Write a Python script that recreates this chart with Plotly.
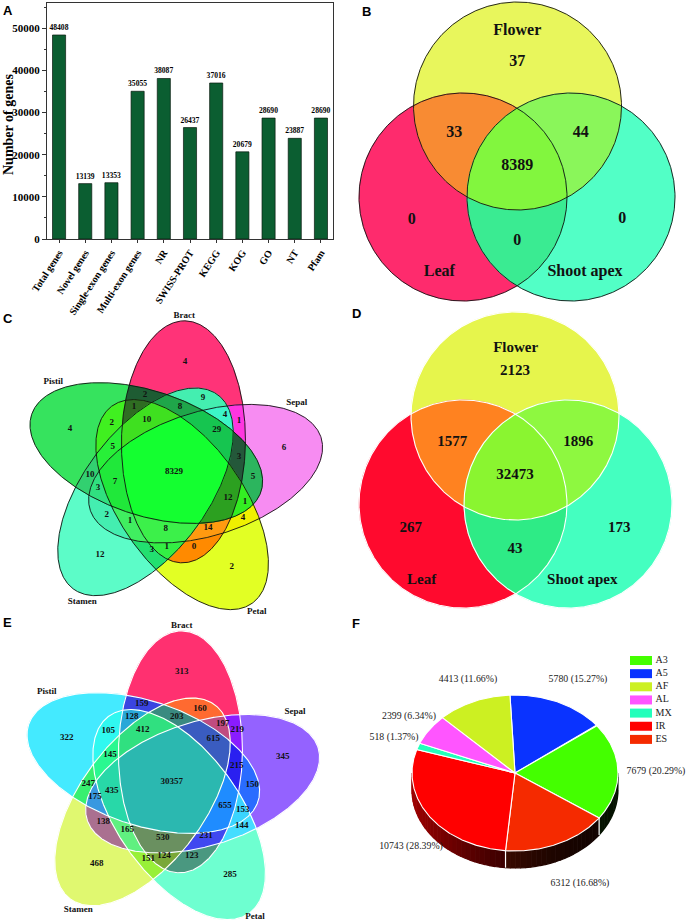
import numpy as np
import plotly.graph_objects as go
from itertools import combinations

SERIF = "Liberation Serif"
SANS = "Liberation Sans"

# ---------------- data ----------------
gene_categories = ["Total genes", "Novel genes", "Single-exon genes", "Multi-exon genes", "NR",
                   "SWISS-PROT", "KEGG", "KOG", "GO", "NT", "Pfam"]
gene_counts = [48408, 13139, 13353, 35055, 38087, 26437, 37016, 20679, 28690, 23887, 28690]

tissue3_names = ["Flower", "Leaf", "Shoot apex"]
# region order: Flower only, Flower+Leaf, Flower+Shoot, all three, Leaf only, Shoot only, Leaf+Shoot
venn_b_counts = [37, 33, 44, 8389, 0, 0, 0]
venn_d_counts = [2123, 1577, 1896, 32473, 267, 173, 43]

tissue5_names = ["Bract", "Sepal", "Petal", "Stamen", "Pistil"]
venn_c_counts = [4, 6, 2, 12, 4, 8329, 2, 1, 8, 9, 4, 1, 10, 2, 29, 5, 3, 5, 10, 3, 7, 12, 1, 2, 1, 8, 4, 14, 3, 1, 0]
venn_e_counts = [313, 345, 285, 468, 322, 30357, 159, 160, 128, 203, 197, 219, 105, 412, 615, 145, 215,
                 247, 150, 175, 435, 655, 153, 138, 165, 144, 530, 231, 151, 124, 123]

as_types = ["A3", "A5", "AF", "AL", "MX", "IR", "ES"]
as_counts = [7679, 5780, 4413, 2399, 518, 10743, 6312]

# ---------------- layout / style (pixel positions) ----------------
B_circles = [(517.5, 106), (463, 197), (571, 197)]
D_circles = [(515, 416), (463, 504), (568, 504)]
CIRC_R = 104
B_count_pos = [(517.3, 62.3), (454.3, 132.7), (580.7, 132.7), (517.3, 165.7), (411.7, 220), (622.3, 219.3), (517.3, 240.7)]
B_name_pos = [(517.3, 30.7), (439.3, 272.3), (585, 272.3)]
B_colors = ["#e8f65c", "#f88b33", "#8af65a", "#82f63e", "#fe2b6d", "#52ffc6", "#3aeb92"]
D_count_pos = [(515, 371.7), (452.3, 442.7), (578.3, 442.7), (515, 475.7), (410.7, 528.3), (619.3, 528.3), (515, 549.3)]
D_name_pos = [(515.7, 348.3), (421.7, 580.7), (582.3, 580.7)]
D_colors = ["#e6f54c", "#ff8220", "#8ef840", "#8af530", "#ff0a2e", "#44ffc0", "#2eeb86"]

C_center = (172.6, 473)
E_center = (169.6, 783)
C_count_pos = [(185, 361.7), (284, 447.7), (231.7, 566.7), (100, 555), (70, 429), (174, 472), (145, 395),
               (134, 406.7), (180, 406.7), (203, 398), (225, 415), (239, 421), (146.7, 420), (111.7, 422.7),
               (216.7, 430), (112.7, 446.7), (239, 456.7), (253, 476.7), (90, 475), (98, 488), (115, 481.7),
               (228, 498), (245, 501.7), (106.7, 515), (130, 520.7), (165.7, 529), (243, 517.7), (208, 528),
               (151.7, 550), (166.7, 546.7), (194, 546.7)]
C_colors = ["#ff3378", "#f78cf2", "#e2ff24", "#5cfcc8", "#36e35e", "#14ff30", "#1e5c33", "#2f6d22", "#1fa64a",
            "#44eeb0", "#3cf5c8", "#ff35e0", "#3fe020", "#40f020", "#16c550", "#28f038", "#24583a", "#2cb55e",
            "#32d070", "#30e080", "#20e83a", "#2ca020", "#33ee22", "#44eeb0", "#40ee60", "#3cf04a", "#f0f000",
            "#ff9a10", "#22e070", "#33ee44", "#ff8a00"]
C_name_pos = [(184.3, 316), (296.7, 402.7), (256.7, 611.7), (82.3, 601.7), (53.3, 381.7)]
E_count_pos = [(181.7, 671.7), (282.7, 756.7), (230, 875), (96.7, 863.3), (66.7, 737.3), (171.7, 781.7),
               (141.7, 704), (200, 708.3), (131.7, 716.7), (176.7, 716.7), (222.7, 724), (237.3, 729.3),
               (108.3, 731), (142.7, 729.3), (213.3, 738.3), (110, 755), (236.7, 765.7), (88.3, 784),
               (252.3, 784.3), (95, 796.7), (111.7, 790.7), (225, 806), (242.7, 810), (103.3, 821.7),
               (127.3, 829.3), (241.7, 826), (162.7, 837.7), (206, 835.7), (148.3, 858.3), (164, 855.7),
               (191.7, 856)]
E_colors = ["#ff3070", "#9462ff", "#6effd0", "#e0f870", "#44eaff", "#2bb8b0", "#3a44e0", "#ff6a30", "#2aa8d8",
            "#3a8a80", "#c04c80", "#8a1cff", "#30f8f0", "#30e080", "#3a5cc0", "#2af890", "#2a20f0", "#38f070",
            "#2a6cff", "#3898e0", "#28d8a8", "#1f8cff", "#3ad4ff", "#aa7090", "#60f080", "#44ddff", "#6a9060",
            "#4048f0", "#98f038", "#7aa838", "#4a9880"]
E_name_pos = [(181.7, 626), (295, 711.7), (255, 917), (78.3, 909.3), (46.7, 691.7)]

PIE_C = (515, 773)
PIE_RX, PIE_RY, PIE_DEPTH = 103, 78, 17
PIE_START = -92.8
pie_draw_order = ["A5", "A3", "ES", "IR", "MX", "AL", "AF"]
pie_colors = ["#44ff00", "#0a33ff", "#ccf022", "#ff55ff", "#22ffbb", "#ff0000", "#f52a00"]
pie_label_pos = [(656, 772), (578, 680), (468, 680), (409, 717), (394, 738), (411, 847), (580, 884)]
legend_x0, legend_y0, legend_dy = 630, 656, 13.15

fig = go.Figure()

# ---------------- Panel A ----------------
fig.add_trace(go.Bar(
    x=gene_categories, y=gene_counts, width=0.5,
    marker=dict(color="#0b5e31", line=dict(color="#0a1a10", width=0.7)),
    text=[str(v) for v in gene_counts], textposition="outside", constraintext="none",
    textfont=dict(family=SERIF, size=7.6, color="black", weight="bold"),
    cliponaxis=False, hoverinfo="skip", showlegend=False))


# ---------------- helpers ----------------
def hex2rgb(h):
    h = h.lstrip("#")
    return np.array([int(h[i:i + 2], 16) for i in (0, 2, 4)], float)


def rgb2hex(c):
    c = np.clip(np.round(c), 0, 255).astype(int)
    return "#%02x%02x%02x" % tuple(c)


def ell(cx, cy, a, b, ang):
    r = np.radians(ang)
    return dict(cx=cx, cy=cy, a=a, b=b, c=np.cos(r), s=np.sin(r))


def boundary(e, n=720):
    t = np.linspace(0, 2 * np.pi, n, endpoint=False)
    x = e["cx"] + e["a"] * np.cos(t) * e["c"] - e["b"] * np.sin(t) * e["s"]
    y = e["cy"] + e["a"] * np.cos(t) * e["s"] + e["b"] * np.sin(t) * e["c"]
    return x, y


def inside(e, x, y, tol=1e-6):
    dx, dy = np.asarray(x) - e["cx"], np.asarray(y) - e["cy"]
    u = dx * e["c"] + dy * e["s"]
    v = -dx * e["s"] + dy * e["c"]
    return (u / e["a"]) ** 2 + (v / e["b"]) ** 2 <= 1 + tol


def intersect_poly(es):
    xs, ys = [], []
    for i, e in enumerate(es):
        x, y = boundary(e)
        m = np.ones_like(x, bool)
        for j, f in enumerate(es):
            if j != i:
                m &= inside(f, x, y)
        xs.append(x[m]); ys.append(y[m])
    x = np.concatenate(xs); y = np.concatenate(ys)
    if len(x) < 3:
        return None
    mx, my = x.mean(), y.mean()
    o = np.argsort(np.arctan2(y - my, x - mx))
    x, y = x[o], y[o]
    return np.append(x, x[0]), np.append(y, y[0])


def draw_venn(ells, count_pos, colors, counts, names, name_pos, outline, outline_w, fsize, name_size):
    cmap = {}
    for (px, py), col in zip(count_pos, colors):
        key = tuple(i for i, e in enumerate(ells) if inside(e, px, py))
        cmap[key] = col
    base = [hex2rgb(cmap[(i,)]) if (i,) in cmap else np.array([200, 200, 200.]) for i in range(len(ells))]
    for k in range(1, len(ells) + 1):
        for sub in combinations(range(len(ells)), k):
            poly = intersect_poly([ells[i] for i in sub])
            if poly is None:
                continue
            col = cmap.get(sub) or rgb2hex(np.mean([base[i] for i in sub], axis=0))
            fig.add_trace(go.Scatter(x=np.round(poly[0], 2), y=np.round(poly[1], 2), mode="lines",
                                     fill="toself", fillcolor=col, line=dict(color=col, width=0.5),
                                     xaxis="x2", yaxis="y2", hoverinfo="skip", showlegend=False))
    for e in ells:
        x, y = boundary(e)
        fig.add_trace(go.Scatter(x=np.round(np.append(x, x[0]), 2), y=np.round(np.append(y, y[0]), 2),
                                 mode="lines", line=dict(color=outline, width=outline_w),
                                 xaxis="x2", yaxis="y2", hoverinfo="skip", showlegend=False))
    fig.add_trace(go.Scatter(x=[p[0] for p in count_pos], y=[p[1] for p in count_pos],
                             text=[str(c) for c in counts], mode="text",
                             textfont=dict(family=SERIF, size=fsize, color="#111", weight="bold"),
                             xaxis="x2", yaxis="y2", hoverinfo="skip", showlegend=False))
    fig.add_trace(go.Scatter(x=[p[0] for p in name_pos], y=[p[1] for p in name_pos],
                             text=names, mode="text",
                             textfont=dict(family=SERIF, size=name_size, color="#111", weight="bold"),
                             xaxis="x2", yaxis="y2", hoverinfo="skip", showlegend=False))


def five_ellipses(center, d=33, a=121, b=62, tip0=270.7, off=18.5):
    out = []
    for k in range(5):
        tip = tip0 + 72 * k
        ca = np.radians(tip + off)
        out.append(ell(center[0] + d * np.cos(ca), center[1] + d * np.sin(ca), a, b, tip))
    return out


# ---------------- Panels B & D ----------------
draw_venn([ell(x, y, CIRC_R, CIRC_R, 0) for x, y in B_circles], B_count_pos, B_colors, venn_b_counts,
          tissue3_names, B_name_pos, "#111", 0.9, 16, 16)
draw_venn([ell(x, y, CIRC_R, CIRC_R, 0) for x, y in D_circles], D_count_pos, D_colors, venn_d_counts,
          tissue3_names, D_name_pos, "white", 1.1, 15, 15)

# ---------------- Panels C & E ----------------
draw_venn(five_ellipses(C_center), C_count_pos, C_colors, venn_c_counts, tissue5_names, C_name_pos,
          "#111", 0.9, 9, 9)
draw_venn(five_ellipses(E_center), E_count_pos, E_colors, venn_e_counts, tissue5_names, E_name_pos,
          "white", 1.1, 9, 9)

# ---------------- Panel F (3-D style pie) ----------------
total = float(sum(as_counts))
cx, cy = PIE_C


def arc(t1, t2, n):
    tt = np.radians(np.linspace(t1, t2, n))
    return cx + PIE_RX * np.cos(tt), cy + PIE_RY * np.sin(tt)


spans = []
t = PIE_START
for name in pie_draw_order:
    i = as_types.index(name)
    sweep = 360.0 * as_counts[i] / total
    spans.append((i, t, t + sweep))
    t += sweep

# side walls
for i, t1, t2 in spans:
    for lo, hi in [(0, 180), (360, 540)]:
        a1, a2 = max(t1, lo), min(t2, hi)
        if a2 <= a1:
            continue
        nseg = max(1, int(np.ceil((a2 - a1) / 3)))
        edges = np.linspace(a1, a2, nseg + 1)
        for s1, s2 in zip(edges[:-1], edges[1:]):
            xs, ys = arc(s1, s2, 5)
            px = np.concatenate([xs, xs[::-1]])
            py = np.concatenate([ys, ys[::-1] + PIE_DEPTH])
            p = (1 - np.cos(np.radians((s1 + s2) / 2))) / 2
            f = 0.07 + 0.55 * p ** 2
            col = rgb2hex(hex2rgb(pie_colors[i]) * f)
            fig.add_trace(go.Scatter(x=np.round(px, 2), y=np.round(py, 2), mode="lines", fill="toself",
                                     fillcolor=col, line=dict(color=col, width=1.2),
                                     xaxis="x2", yaxis="y2", hoverinfo="skip", showlegend=False))
# white seams on side
for i, t1, t2 in spans:
    tb = t2 % 360
    if 0 < tb < 180:
        xs, ys = arc(tb, tb, 1)
        fig.add_trace(go.Scatter(x=[xs[0], xs[0]], y=[ys[0], ys[0] + PIE_DEPTH], mode="lines",
                                 line=dict(color="white", width=1.2), xaxis="x2", yaxis="y2",
                                 hoverinfo="skip", showlegend=False))
# top face
for i, t1, t2 in spans:
    n = max(4, int((t2 - t1) * 2))
    xs, ys = arc(t1, t2, n)
    px = np.concatenate([[cx], xs, [cx]])
    py = np.concatenate([[cy], ys, [cy]])
    fig.add_trace(go.Scatter(x=np.round(px, 2), y=np.round(py, 2), mode="lines", fill="toself",
                             fillcolor=pie_colors[i], line=dict(color="white", width=1.1),
                             xaxis="x2", yaxis="y2", hoverinfo="skip", showlegend=False))
# labels
fig.add_trace(go.Scatter(
    x=[p[0] for p in pie_label_pos], y=[p[1] for p in pie_label_pos],
    text=["%d (%.2f%%)" % (v, 100 * v / total) for v in as_counts], mode="text",
    textfont=dict(family=SERIF, size=9.8, color="#222"),
    xaxis="x2", yaxis="y2", hoverinfo="skip", showlegend=False))
# legend
shapes = []
for k, name in enumerate(as_types):
    y0 = legend_y0 + k * legend_dy
    shapes.append(dict(type="rect", xref="x2", yref="y2", x0=legend_x0, x1=legend_x0 + 22, y0=y0, y1=y0 + 9,
                       fillcolor=pie_colors[k], line=dict(width=0)))
fig.add_trace(go.Scatter(
    x=[legend_x0 + 25.5] * len(as_types), y=[legend_y0 + 4.5 + k * legend_dy for k in range(len(as_types))],
    text=as_types, mode="text", textposition="middle right",
    textfont=dict(family=SERIF, size=10, color="#222"),
    xaxis="x2", yaxis="y2", hoverinfo="skip", showlegend=False))

# ---------------- annotations ----------------
annotations = [dict(text="Number of genes", x=8, y=125, xref="x2", yref="y2", textangle=-90, showarrow=False,
                    font=dict(family=SERIF, size=14, color="black", weight="bold"))]
for letter, (lx, ly) in zip("ABCDEF", [(1, 10), (360, 11), (1, 318), (350, 313), (1, 622), (350, 623)]):
    annotations.append(dict(text=letter, x=lx, y=ly, xref="x2", yref="y2", xanchor="left", yanchor="middle",
                            showarrow=False, font=dict(family=SANS, size=13, color="black", weight="bold")))

fig.update_layout(
    width=690, height=923, margin=dict(l=0, r=0, t=0, b=0),
    paper_bgcolor="white", plot_bgcolor="rgba(0,0,0,0)", showlegend=False,
    shapes=shapes, annotations=annotations,
    xaxis=dict(domain=[47 / 690, 333 / 690], anchor="y", range=[-0.46, 10.46], showline=True, linecolor="#333",
               linewidth=1, mirror=True, ticks="outside", ticklen=3, tickcolor="#333", tickangle=-57,
               tickfont=dict(family=SERIF, size=10, color="black", weight="bold"), showgrid=False,
               automargin=False, fixedrange=True, zeroline=False),
    yaxis=dict(domain=[1 - 239 / 923, 1 - 3 / 923], anchor="x", range=[0, 56000], showline=True,
               linecolor="#333", linewidth=1, mirror=True, ticks="outside", ticklen=4, tickcolor="#333",
               tickvals=[0, 10000, 20000, 30000, 40000, 50000], tickformat="d",
               minor=dict(ticks="outside", ticklen=2, dtick=5000, tickcolor="#333"),
               tickfont=dict(family=SERIF, size=11, color="black", weight="bold"), showgrid=False,
               automargin=False, fixedrange=True, zeroline=False),
    xaxis2=dict(domain=[0, 1], anchor="y2", range=[0, 690], visible=False, fixedrange=True),
    yaxis2=dict(domain=[0, 1], anchor="x2", range=[923, 0], visible=False, fixedrange=True),
)

fig.write_html("out.html", config={"displayModeBar": False},
               post_script="document.body.style.margin='0px';document.body.style.padding='0px';")
